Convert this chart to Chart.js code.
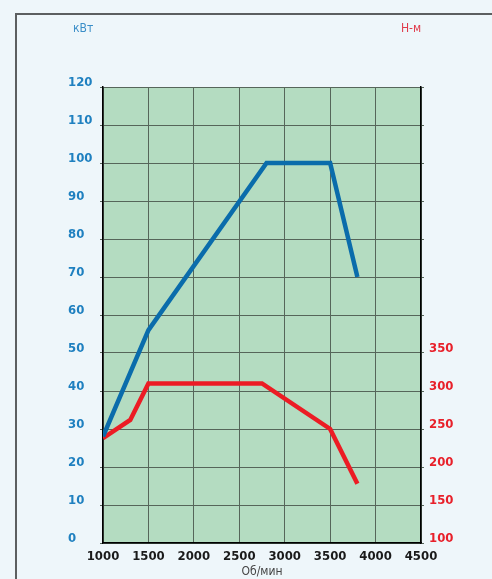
<!DOCTYPE html>
<html>
<head>
<meta charset="utf-8">
<script src="https://cdn.jsdelivr.net/npm/chart.js@4.4.0/dist/chart.umd.min.js"></script>
<style>
  html, body { margin: 0; padding: 0; background: #eef6fa; }
  #wrap { width: 492px; height: 579px; }
</style>
</head>
<body>
<div id="wrap"><canvas id="chart" width="492" height="579"></canvas></div>
<script>
// power curve (kW)
const rpmPower = [1000, 1500, 2800, 3500, 3800];
const power = [28, 56, 100, 100, 70];
// torque curve (N-m)
const rpmTorque = [1000, 1300, 1500, 2750, 3500, 3800];
const torque = [238, 262, 310, 310, 250, 178];

const FONT = '"Liberation Sans Narrow", "DejaVu Sans Condensed", sans-serif';

const bgPlugin = {
    id: 'bg',
    beforeDraw(chart) {
        const ctx = chart.ctx;
        const a = chart.chartArea;
        ctx.save();
        // outer frame
        ctx.strokeStyle = '#5c5f60';
        ctx.lineWidth = 2;
        ctx.strokeRect(16, 14, 500, 600);
        // plot background
        ctx.fillStyle = '#b4dcc1';
        ctx.fillRect(a.left, a.top, a.right - a.left, a.bottom - a.top);
        ctx.restore();
    },
    afterDraw(chart) {
        const ctx = chart.ctx;
        ctx.save();
        ctx.font = '12px ' + FONT;
        ctx.textBaseline = 'middle';
        ctx.fillStyle = '#3a8ec8';
        ctx.fillText('кВт', 73, 29);
        ctx.fillStyle = '#e03a4a';
        ctx.fillText('Н-м', 401, 29);
        ctx.restore();
    }
};

const toPoints = (xs, ys) => xs.map((x, i) => ({x: x, y: ys[i]}));

new Chart(document.getElementById('chart').getContext('2d'), {
    type: 'line',
    data: {
        datasets: [{
            label: 'кВт',
            data: toPoints(rpmPower, power),
            borderColor: '#0a6cab',
            borderWidth: 4.5,
            pointRadius: 0,
            tension: 0,
            yAxisID: 'y',
        }, {
            label: 'Н-м',
            data: toPoints(rpmTorque, torque),
            borderColor: '#ec1c24',
            borderWidth: 4.5,
            pointRadius: 0,
            tension: 0,
            yAxisID: 'y2',
        }],
    },
    options: {
        responsive: false,
        animation: false,
        layout: { padding: { left: 68, top: 87, right: 0, bottom: 0 } },
        plugins: { legend: { display: false }, tooltip: { enabled: false } },
        scales: {
            x: {
                type: 'linear',
                min: 1000,
                max: 4500,
                afterFit(s) { s.height = 36; },
                ticks: {
                    stepSize: 500,
                    padding: 6,
                    maxRotation: 0,
                    minRotation: 0,
                    autoSkip: false,
                    color: '#1a1a1a',
                    font: { family: FONT, size: 13, weight: 'bold' },
                    callback: v => String(v),
                },
                grid: { color: '#56665a', drawTicks: false },
                border: { color: '#000', width: 1.5 },
                title: {
                    display: true,
                    text: 'Об/мин',
                    color: '#444',
                    padding: 0,
                    font: { family: 'DejaVu Sans Condensed, sans-serif', size: 12 },
                },
            },
            y: {
                position: 'left',
                min: 0,
                max: 120,
                afterFit(s) { s.width = 35; },
                ticks: {
                    stepSize: 10,
                    crossAlign: 'far',
                    labelOffset: -4,
                    color: '#1f80c0',
                    font: { family: FONT, size: 13, weight: 'bold' },
                },
                grid: { color: '#56665a', tickLength: 3 },
                border: { color: '#000', width: 1.5 },
            },
            y2: {
                position: 'right',
                min: 100,
                max: 700,
                afterFit(s) { s.width = 71; },
                ticks: {
                    stepSize: 50,
                    padding: 5,
                    labelOffset: -4,
                    color: '#e8202a',
                    font: { family: FONT, size: 13, weight: 'bold' },
                    callback: v => (v <= 350 ? v : ''),
                },
                grid: { drawOnChartArea: false, color: '#56665a', tickLength: 3 },
                border: { color: '#000', width: 1.5 },
            },
        },
    },
    plugins: [bgPlugin],
});
</script>
</body>
</html>
